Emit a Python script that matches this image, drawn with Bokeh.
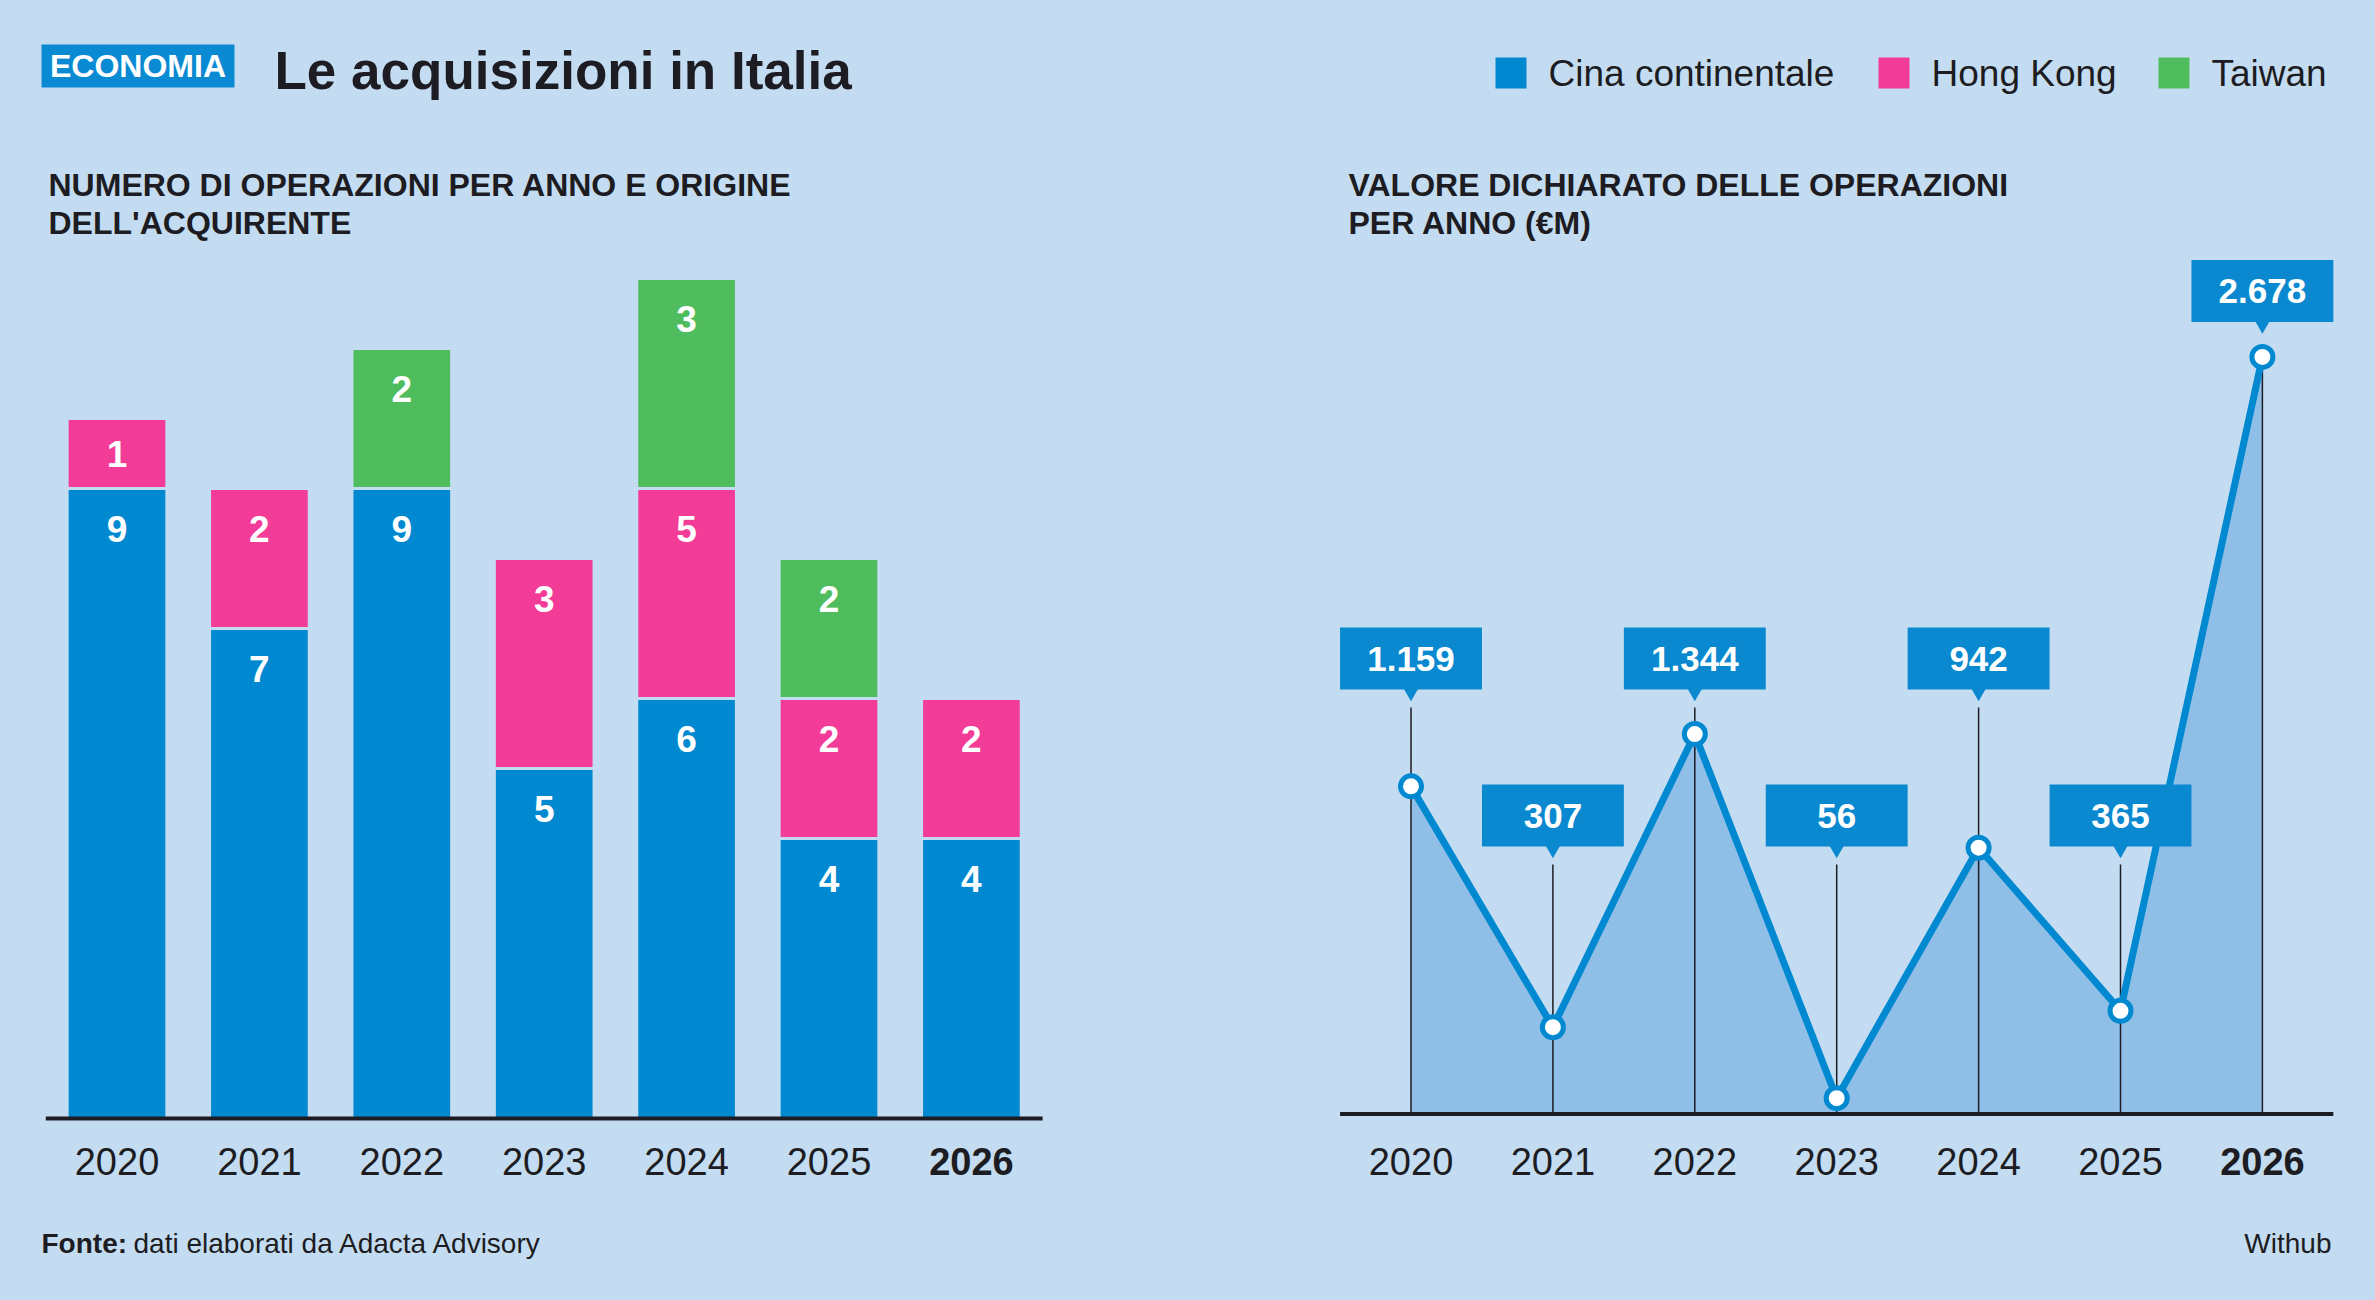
from bokeh.plotting import figure
from bokeh.layouts import row
from bokeh.models import ColumnDataSource, Range1d, Label, BoxAnnotation
from bokeh.core.properties import value
from bokeh.embed import file_html
from bokeh.resources import INLINE

# dati
anni = ["2020", "2021", "2022", "2023", "2024", "2025", "2026"]
cina = [9, 7, 9, 5, 6, 4, 4]
hong_kong = [1, 2, 0, 3, 5, 2, 2]
taiwan = [0, 0, 2, 0, 3, 2, 0]
# altezza dei segmenti Hong Kong come sono disegnati nell'originale (2024: etichetta 5, segmento alto 3)
hong_kong_disegno = [1, 2, 0, 3, 3, 2, 2]
valore = [1159, 307, 1344, 56, 942, 365, 2678]
serie = ["Cina continentale", "Hong Kong", "Taiwan"]

# colori
SFONDO = "#c4dcf1"
BLU = "#0089d1"
ROSA = "#f33b98"
VERDE = "#4fbd5d"
AREA = "#8fbee6"
SCURO = "#1c1c22"
FONT = "Liberation Sans"

ALTEZZA = 1300
CAP = 0.358  # meta' altezza delle maiuscole, in em: il testo viene centrato su y


def pannello(sinistra, larghezza, x0, passo, y0, unita):
    """figura senza assi: x0/y0 = pixel della pagina dove cadono indice 0 e valore 0"""
    X = lambda px: (px - x0) / passo
    Y = lambda py: (y0 - py) / unita
    p = figure(width=larghezza, height=ALTEZZA,
               x_range=Range1d(X(sinistra), X(sinistra + larghezza)),
               y_range=Range1d(Y(ALTEZZA), Y(0)),
               x_axis_location=None, y_axis_location=None,
               toolbar_location=None, output_backend="svg", min_border=0)
    p.background_fill_color = SFONDO
    p.border_fill_color = SFONDO
    p.outline_line_color = None
    p.grid.visible = False
    return p, X, Y


def scrivi(p, X, Y, x, base, testo, size, bold=False, colore=SCURO, align="left"):
    # base = linea di base del testo in pixel di pagina
    p.add_layout(Label(x=X(x), y=Y(base - CAP * size), text=testo, text_font=FONT,
                       text_font_size=f"{size}px",
                       text_font_style="bold" if bold else "normal", text_color=colore,
                       text_align=align, text_baseline="alphabetic"))


idx = list(range(len(anni)))
stile_anni = ["bold" if a == anni[-1] else "normal" for a in anni]

# ---------- pannello sinistro: numero di operazioni ----------
UNITA_SX = 70.0
sx, X, Y = pannello(0, 1198, 116.5, 142.4, 1118, UNITA_SX)

src = ColumnDataSource(dict(x=idx, cina=cina, hk=hong_kong_disegno, tw=taiwan))
sx.vbar_stack(["cina", "hk", "tw"], x="x", width=0.70, source=src,
              fill_color=[BLU, ROSA, VERDE], line_color=SFONDO, line_width=3)

# etichette dentro i segmenti
lx, ly, lt = [], [], []
for i in idx:
    fondo = 0
    for v, h in ((cina[i], cina[i]), (hong_kong[i], hong_kong_disegno[i]), (taiwan[i], taiwan[i])):
        if v:
            lx.append(i)
            ly.append(fondo + h - min(40 / UNITA_SX, h / 2))
            lt.append(str(v))
        fondo += h
sx.text(x=lx, y=ly, text=lt, text_font=value(FONT), text_font_size="37px",
        text_font_style="bold", text_color="white", text_align="center",
        text_baseline="alphabetic")

sx.segment(x0=-0.5, y0=0, x1=len(anni) - 0.5, y1=0, line_color=SCURO, line_width=4)

src_anni = ColumnDataSource(dict(x=idx, y=[Y(1175 - CAP * 38)] * len(anni), t=anni, s=stile_anni))
sx.text(x="x", y="y", text="t", text_font_style="s", source=src_anni,
        text_font=value(FONT), text_font_size="38px", text_color=SCURO,
        text_align="center", text_baseline="alphabetic")

# testata
sx.add_layout(BoxAnnotation(left=X(41), right=X(234), top=Y(44), bottom=Y(87),
                            fill_color="#0a8ad2", fill_alpha=1, line_color=None))
scrivi(sx, X, Y, 137.5, 77.3, "ECONOMIA", 32, bold=True, colore="white", align="center")
scrivi(sx, X, Y, 274, 89.3, "Le acquisizioni in Italia", 53, bold=True)
scrivi(sx, X, Y, 48, 195.7, "NUMERO DI OPERAZIONI PER ANNO E ORIGINE", 32, bold=True)
scrivi(sx, X, Y, 48, 234, "DELL'ACQUIRENTE", 32, bold=True)
scrivi(sx, X, Y, 41, 1253, "Fonte:", 28, bold=True)
scrivi(sx, X, Y, 133, 1253, "dati elaborati da Adacta Advisory", 28)

# ---------- pannello destro: valore dichiarato ----------
UNITA_DX = 0.2827
dx, XR, YR = pannello(1198, 1177, 1410.5, 141.9, 1113.5, UNITA_DX)

dx.varea(x=idx, y1=[0] * len(valore), y2=valore, fill_color=AREA)

riga = ["cima" if v == max(valore) else ("alto" if i % 2 == 0 else "basso")
        for i, v in enumerate(valore)]
CENTRO_RIGA = {"alto": 658, "basso": 815, "cima": 290.5}
ALT_BOX = 62
box_y = [YR(CENTRO_RIGA[r]) for r in riga]
tri_y = [YR(CENTRO_RIGA[r] + ALT_BOX / 2 + 3) for r in riga]
stelo = [v if r == "cima" else YR(CENTRO_RIGA[r] + ALT_BOX / 2 + 18) for v, r in zip(valore, riga)]
txt_y = [YR(CENTRO_RIGA[r]) for r in riga]
etichette = [f"{v:,}".replace(",", ".") for v in valore]

dx.segment(x0=idx, y0=stelo, x1=idx, y1=[0] * len(valore), line_color=SCURO, line_width=1.5)
dx.line(idx, valore, line_color=BLU, line_width=7, line_join="round")
dx.scatter(idx, valore, size=21, fill_color="white", line_color=BLU, line_width=5)
dx.rect(x=idx, y=box_y, width=1.0, height=ALT_BOX, height_units="screen",
        fill_color="#0a89d0", line_color=None)
dx.scatter(idx, tri_y, marker="inverted_triangle", size=15, fill_color="#0a89d0", line_color=None)
dx.text(x=idx, y=txt_y, text=etichette, text_font=value(FONT), text_font_size="35px",
        text_font_style="bold", text_color="white", text_align="center",
        text_baseline="alphabetic")

dx.segment(x0=-0.5, y0=0, x1=len(valore) - 0.5, y1=0, line_color=SCURO, line_width=4)
src_anni_dx = ColumnDataSource(dict(x=idx, y=[YR(1175 - CAP * 38)] * len(anni), t=anni, s=stile_anni))
dx.text(x="x", y="y", text="t", text_font_style="s", source=src_anni_dx,
        text_font=value(FONT), text_font_size="38px", text_color=SCURO,
        text_align="center", text_baseline="alphabetic")

scrivi(dx, XR, YR, 1348, 195.7, "VALORE DICHIARATO DELLE OPERAZIONI", 32, bold=True)
scrivi(dx, XR, YR, 1348, 234, "PER ANNO (€M)", 32, bold=True)
scrivi(dx, XR, YR, 2331, 1253, "Withub", 28, align="right")

# legenda
for nome, colore, px in zip(serie, [BLU, ROSA, VERDE], [1495, 1878, 2158]):
    dx.add_layout(BoxAnnotation(left=XR(px), right=XR(px + 31), top=YR(57), bottom=YR(88),
                                fill_color=colore, fill_alpha=1, line_color=None))
    scrivi(dx, XR, YR, px + 53, 86.7, nome, 37)

p = row(sx, dx, styles={"background-color": SFONDO})
open("out.html", "w").write(file_html(p, INLINE))
